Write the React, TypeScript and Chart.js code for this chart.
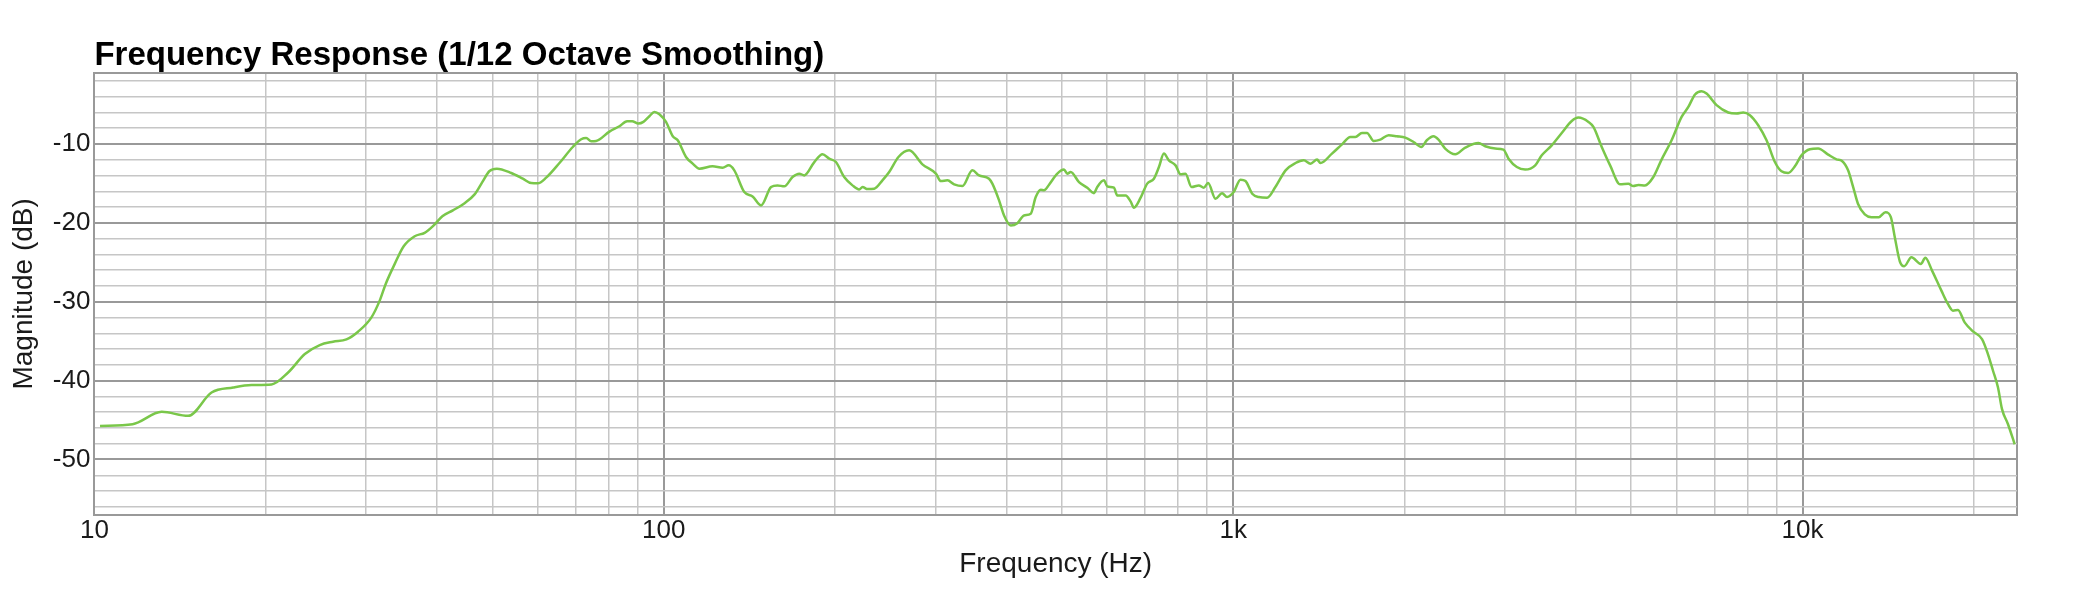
import { useEffect, useRef } from 'react';
import { Chart, registerables } from 'chart.js';

Chart.register(...registerables);

// ---- data ----
const freqHz = [
  10.23, 11.67, 13.13, 14.61, 16.06, 17.53, 18.88, 20.47, 21.89, 23.42,
  24.88, 26.25, 27.71, 29.04, 30.66, 31.7, 32.48, 33.69, 34.93, 36.52,
  38.02, 39.32, 40.84, 42.62, 44.69, 46.53, 48.0, 49.43, 50.91, 53.96,
  56.55, 58.5, 60.08, 62.15, 65.58, 69.21, 71.6, 73.06, 74.56, 76.07,
  80.26, 83.57, 86.21, 87.97, 90.23, 92.08, 94.35, 96.27, 98.24, 100.9,
  103.7, 105.8, 109.4, 112.4, 115.5, 121.8, 126.9, 130.0, 133.0, 138.5,
  143.2, 148.2, 154.3, 158.4, 162.8, 168.3, 173.0, 176.5, 183.8, 190.0,
  195.2, 200.6, 207.4, 214.5, 220.4, 223.4, 228.0, 234.2, 242.1, 248.8,
  258.3, 269.7, 284.6, 300.5, 306.6, 314.9, 323.5, 334.5, 348.3, 357.9,
  372.6, 377.6, 388.0, 395.9, 406.8, 417.8, 429.2, 441.0, 450.0, 459.2,
  465.4, 474.9, 491.1, 504.5, 511.3, 518.4, 536.0, 554.3, 569.5, 577.1,
  593.0, 601.0, 617.4, 625.7, 647.3, 660.5, 669.4, 687.8, 706.3, 725.7,
  740.6, 755.6, 770.9, 792.1, 808.2, 824.7, 845.0, 870.2, 888.0, 903.6,
  930.9, 956.1, 975.6, 1002, 1030, 1051, 1080, 1109, 1147, 1186,
  1236, 1287, 1330, 1367, 1404, 1423, 1491, 1553, 1606, 1639,
  1683, 1718, 1765, 1813, 1875, 1939, 2006, 2074, 2140, 2188,
  2248, 2294, 2357, 2455, 2556, 2697, 2771, 2886, 2983, 3045,
  3149, 3257, 3392, 3483, 3626, 3776, 3932, 4040, 4207, 4292,
  4439, 4592, 4782, 4943, 5044, 5147, 5287, 5469, 5654, 5888,
  6131, 6300, 6473, 6646, 6782, 7062, 7404, 7656, 7866, 8082,
  8358, 8644, 8941, 9183, 9434, 9693, 9956, 10300, 10650, 11090,
  11470, 11730, 12020, 12270, 12510, 12860, 13210, 13610, 13980, 14290,
  14520, 14820, 15080, 15530, 16130, 16430, 16880, 17530, 18000, 18370,
  18750, 19260, 19920, 20660, 21160, 21600, 22040, 22400, 22950, 23580,
];

const magnitudeDb = [
  -45.74, -45.53, -43.96, -44.47, -41.51, -40.88, -40.57, -40.49, -38.97, -36.63,
  -35.49, -35.07, -34.78, -33.8, -31.98, -29.86, -27.74, -25.2, -22.96, -21.69,
  -21.26, -20.42, -19.15, -18.42, -17.5, -16.39, -14.83, -13.43, -13.13, -13.68,
  -14.4, -14.96, -14.99, -14.27, -12.41, -10.38, -9.4, -9.24, -9.66, -9.62,
  -8.43, -7.75, -7.12, -7.12, -7.41, -7.2, -6.48, -5.93, -6.23, -7.2,
  -9.02, -9.53, -11.65, -12.49, -13.13, -12.83, -13.0, -12.71, -13.34, -16.1,
  -16.65, -17.79, -15.46, -15.25, -15.37, -14.19, -13.76, -13.98, -12.29, -11.31,
  -11.86, -12.29, -14.19, -15.25, -15.76, -15.46, -15.72, -15.67, -14.61, -13.56,
  -11.65, -10.8, -12.58, -13.76, -14.7, -14.61, -15.12, -15.34, -13.34, -13.98,
  -14.4, -15.03, -17.15, -19.06, -20.33, -20.04, -19.06, -18.84, -16.73, -15.79,
  -15.88, -15.16, -13.76, -13.25, -13.76, -13.56, -14.83, -15.54, -16.23, -15.46,
  -14.61, -15.37, -15.54, -16.52, -16.52, -17.28, -18.08, -16.81, -15.03, -14.4,
  -12.92, -11.22, -12.07, -12.71, -13.85, -13.76, -15.46, -15.25, -15.54, -14.96,
  -16.94, -16.23, -16.73, -16.1, -14.52, -14.7, -16.3, -16.73, -16.81, -15.46,
  -13.34, -12.41, -12.07, -12.49, -11.98, -12.41, -11.22, -10.04, -9.11, -9.11,
  -8.6, -8.6, -9.62, -9.44, -8.89, -9.02, -9.19, -9.75, -10.38, -9.53,
  -9.02, -9.44, -10.58, -11.31, -10.46, -9.87, -10.29, -10.58, -10.71, -11.86,
  -12.92, -13.25, -12.71, -11.44, -10.17, -8.6, -7.08, -6.65, -7.2, -7.84,
  -10.38, -12.71, -15.12, -15.03, -15.34, -15.2, -15.25, -14.19, -11.98, -9.53,
  -6.57, -5.3, -3.72, -3.3, -3.6, -5.08, -6.01, -6.14, -6.01, -6.35,
  -7.62, -9.53, -12.29, -13.47, -13.68, -12.83, -11.44, -10.67, -10.58, -11.35,
  -11.94, -12.16, -13.34, -15.46, -17.57, -18.93, -19.28, -19.28, -18.64, -19.28,
  -21.82, -24.9, -25.5, -24.36, -25.2, -24.43, -26.05, -28.59, -30.28, -31.13,
  -31.04, -32.62, -33.76, -34.73, -36.63, -38.75, -40.88, -43.62, -45.53, -48.07,
];

// ---- axes ----
const xMinHz = 10;
const xMaxHz = 23800;
const yMinDb = -57;
const yMaxDb = -1;

const xGridHz = [
  10, 20, 30, 40, 50, 60, 70, 80, 90,
  100, 200, 300, 400, 500, 600, 700, 800, 900,
  1000, 2000, 3000, 4000, 5000, 6000, 7000, 8000, 9000,
  10000, 20000,
];
const xLabelHz = [10, 100, 1000, 10000];
const xLabelText = ['10', '100', '1k', '10k'];

const yGridDb = [
  -56, -54, -52, -50, -48, -46, -44, -42, -40, -38, -36, -34, -32, -30,
  -28, -26, -24, -22, -20, -18, -16, -14, -12, -10, -8, -6, -4, -2,
];
const yLabelDb = [-50, -40, -30, -20, -10];

const titleText = 'Frequency Response (1/12 Octave Smoothing)';
const xTitleText = 'Frequency (Hz)';
const yTitleText = 'Magnitude (dB)';

export default function App() {
  const ref = useRef<HTMLCanvasElement>(null);

  useEffect(() => {
    const FONT = "'Liberation Sans', Arial, Helvetica, sans-serif";
    const LINE = '#7ac74a';
    const MAJOR = '#999999';
    const MINOR = '#c6c6c6';
    const EDGE = '#999999';

    const points = freqHz.map((f, i) => ({ x: f, y: magnitudeDb[i] }));

    const xKind = (v: number) =>
      v === xMaxHz || v === xMinHz ? 'edge' : xLabelHz.includes(v) ? 'major' : 'minor';
    const yKind = (v: number) =>
      v === yMaxDb || v === yMinDb ? 'edge' : yLabelDb.includes(v) ? 'major' : 'minor';

    const chart = new Chart(ref.current as HTMLCanvasElement, {
      type: 'line',
      data: {
        datasets: [
          {
            data: points,
            borderColor: LINE,
            borderWidth: 2.5,
            pointRadius: 0,
            fill: false,
            cubicInterpolationMode: 'monotone',
          },
        ],
      },
      options: {
        animation: false,
        responsive: false,
        events: [],
        layout: { padding: { left: 0, right: 68, top: 0, bottom: 0 } },
        plugins: {
          legend: { display: false },
          tooltip: { enabled: false },
          title: {
            display: true,
            text: titleText,
            align: 'start',
            fullSize: false,
            color: '#000',
            font: { family: FONT, size: 33, weight: 'bold', lineHeight: 1.0 },
            padding: { top: 39.3, bottom: 0.7 },
          },
        },
        scales: {
          x: {
            type: 'logarithmic',
            min: xMinHz,
            max: xMaxHz,
            afterBuildTicks: (s: any) => {
              s.ticks = [...xGridHz, xMaxHz].map((v) => ({ value: v }));
            },
            afterFit: (s: any) => {
              s.height = 80.3;
            },
            ticks: {
              autoSkip: false,
              maxRotation: 0,
              minRotation: 0,
              padding: 1,
              color: '#1a1a1a',
              font: { family: FONT, size: 26 },
              callback: (v: any) => {
                const i = xLabelHz.indexOf(Number(v));
                return i >= 0 ? xLabelText[i] : '';
              },
            },
            grid: {
              drawTicks: false,
              color: (c: any) => {
                const k = c.tick ? xKind(c.tick.value) : 'minor';
                return k === 'minor' ? MINOR : k === 'major' ? MAJOR : EDGE;
              },
              lineWidth: (c: any) => {
                const k = c.tick ? xKind(c.tick.value) : 'minor';
                return k === 'minor' ? 1.5 : 2;
              },
            },
            border: { display: true, color: EDGE, width: 2 },
            title: {
              display: true,
              text: xTitleText,
              color: '#1a1a1a',
              font: { family: FONT, size: 28 },
              padding: { top: 0, bottom: 14.3 },
            },
          },
          y: {
            type: 'linear',
            min: yMinDb,
            max: yMaxDb,
            afterBuildTicks: (s: any) => {
              s.ticks = [yMinDb, ...yGridDb, yMaxDb].map((v) => ({ value: v }));
            },
            afterFit: (s: any) => {
              s.width = 94.4;
            },
            ticks: {
              autoSkip: false,
              padding: 4,
              color: '#1a1a1a',
              font: { family: FONT, size: 26 },
              callback: (v: any) => (yLabelDb.includes(Number(v)) ? String(v) : ''),
            },
            grid: {
              drawTicks: false,
              color: (c: any) => {
                const k = c.tick ? yKind(c.tick.value) : 'minor';
                return k === 'minor' ? MINOR : k === 'major' ? MAJOR : EDGE;
              },
              lineWidth: (c: any) => {
                const k = c.tick ? yKind(c.tick.value) : 'minor';
                return k === 'minor' ? 1.5 : 2;
              },
            },
            border: { display: true, color: EDGE, width: 2 },
            title: {
              display: true,
              text: yTitleText,
              color: '#1a1a1a',
              font: { family: FONT, size: 28 },
              padding: { top: 7, bottom: 0 },
            },
          },
        },
      },
    } as any);

    return () => chart.destroy();
  }, []);

  return (
    <div
      style={{
        position: 'absolute',
        left: 0,
        top: 0,
        width: 2085,
        height: 595,
        background: '#fff',
      }}
    >
      <canvas ref={ref} width={2085} height={595} style={{ display: 'block' }} />
    </div>
  );
}
